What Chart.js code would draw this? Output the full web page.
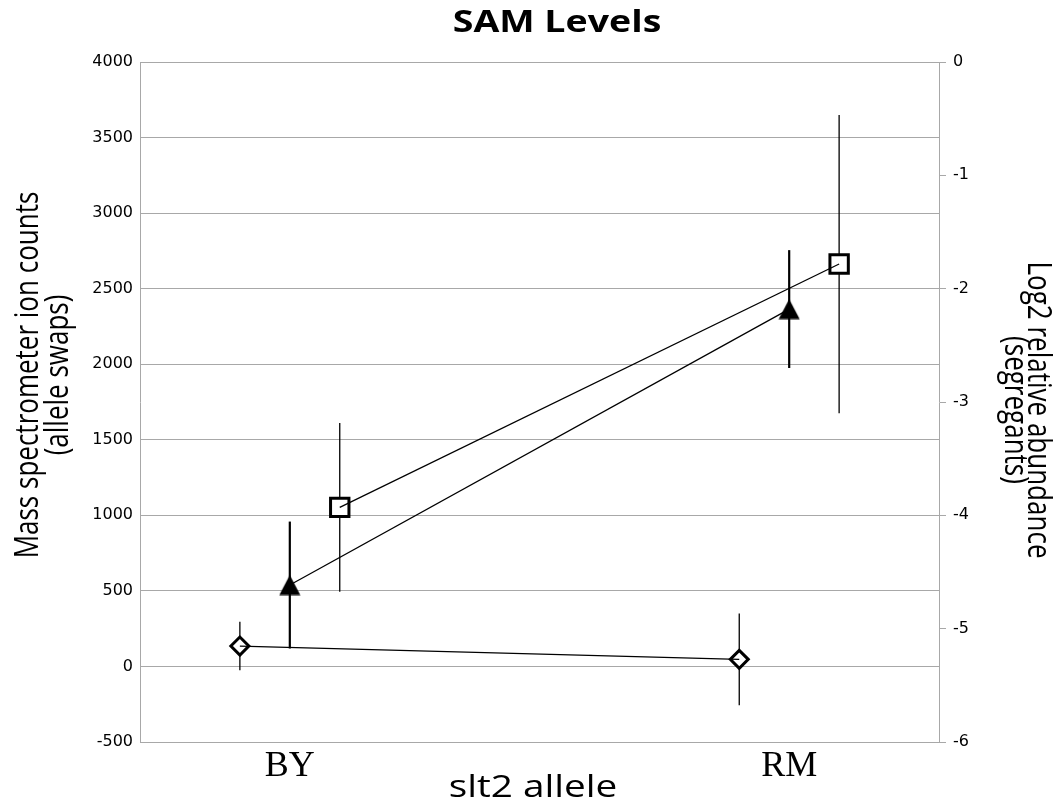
<!DOCTYPE html>
<html><head><meta charset="utf-8">
<script src="https://cdn.jsdelivr.net/npm/chart.js@4.4.0/dist/chart.umd.min.js"></script>
<style>html,body{margin:0;padding:0;background:#fff}</style>
</head><body>
<canvas id="c" width="1056" height="810"></canvas>
<script>
// ---- data ----
const categories = ['BY', 'RM'];
const diamondValues = [135, 47];
const diamondErrors = [160, 303];
const squareValues = [1053, 2663];
const squareErrors = [558, 987];
const triangleValues = [-4.615, -2.18];
const triangleErrors = [0.56, 0.52];
const leftTickValues = [-500, 0, 500, 1000, 1500, 2000, 2500, 3000, 3500, 4000];
const rightTickValues = [-6, -5, -4, -3, -2, -1, 0];

const titleText = 'SAM Levels';
const xTitleText = 'slt2 allele';
const leftTitleLines = ['Mass spectrometer ion counts', '(allele swaps)'];
const rightTitleLines = ['Log2 relative abundance', '(segregants)'];

// ---- styling helpers ----
const GRID = '#a8a8a8';
function pts(values, offset) {
  return categories.map((c, i) => ({ x: i + offset, y: values[i] }));
}
const tri = document.createElement('canvas');
tri.width = 22; tri.height = 21;
(function () {
  const t = tri.getContext('2d');
  t.fillStyle = '#000';
  t.beginPath();
  t.moveTo(11, 0.5); t.lineTo(21.5, 20.5); t.lineTo(0.5, 20.5);
  t.closePath(); t.fill();
})();

const errorBars = {
  id: 'errorBars',
  beforeDatasetsDraw(chart) {
    const ctx = chart.ctx;
    chart.data.datasets.forEach((ds, i) => {
      if (!ds.errors) return;
      const meta = chart.getDatasetMeta(i);
      const ys = chart.scales[ds.yAxisID];
      ctx.save();
      ctx.strokeStyle = '#000';
      ctx.lineWidth = ds.errorWidth;
      meta.data.forEach((el, j) => {
        const v = ds.data[j].y, e = ds.errors[j];
        ctx.beginPath();
        ctx.moveTo(el.x, ys.getPixelForValue(v + e));
        ctx.lineTo(el.x, ys.getPixelForValue(v - e));
        ctx.stroke();
      });
      ctx.restore();
    });
  }
};

const texts = {
  id: 'texts',
  afterDraw(chart) {
    const ctx = chart.ctx;
    ctx.save();
    ctx.fillStyle = '#000';
    // title
    ctx.save();
    ctx.font = 'bold 30px "Open Sans"';
    ctx.textAlign = 'center'; ctx.textBaseline = 'alphabetic';
    ctx.translate(557, 32); ctx.scale(1.25, 1);
    ctx.fillText(titleText, 0, 0);
    ctx.restore();
    // x title
    ctx.save();
    ctx.font = '31px "Open Sans"';
    ctx.textAlign = 'center'; ctx.textBaseline = 'alphabetic';
    ctx.translate(533, 797); ctx.scale(1.25, 1);
    ctx.fillText(xTitleText, 0, 0);
    ctx.restore();
    // left title
    ctx.save();
    ctx.font = '26px "Open Sans"';
    ctx.textAlign = 'center'; ctx.textBaseline = 'middle';
    ctx.translate(29, 375); ctx.rotate(-Math.PI / 2); ctx.scale(1, 1.25);
    ctx.fillText(leftTitleLines[0], 0, 0);
    ctx.fillText(leftTitleLines[1], 0, 24);
    ctx.restore();
    // right title
    ctx.save();
    ctx.font = '26px "Open Sans"';
    ctx.textAlign = 'center'; ctx.textBaseline = 'middle';
    ctx.translate(1037, 410); ctx.rotate(Math.PI / 2); ctx.scale(1, 1.25);
    ctx.fillText(rightTitleLines[0], 0, 0);
    ctx.fillText(rightTitleLines[1], 0, 18.5);
    ctx.restore();
    ctx.restore();
  }
};

new Chart(document.getElementById('c'), {
  type: 'line',
  data: {
    datasets: [
      // connecting lines (on top of markers)
      { data: pts(diamondValues, -0.1), yAxisID: 'y', borderColor: '#000', borderWidth: 1.3, pointRadius: 0, order: 0 },
      { data: pts(triangleValues, 0), yAxisID: 'y2', borderColor: '#000', borderWidth: 1.3, pointRadius: 0, order: 0 },
      { data: pts(squareValues, 0.1), yAxisID: 'y', borderColor: '#000', borderWidth: 1.3, pointRadius: 0, order: 0 },
      // markers
      { data: pts(diamondValues, -0.1), errors: diamondErrors, errorWidth: 1.3, yAxisID: 'y', showLine: false,
        pointStyle: 'rectRot', pointRadius: 9, pointBorderWidth: 3, pointBorderColor: '#000', pointBackgroundColor: '#fff', order: 1 },
      { data: pts(triangleValues, 0), errors: triangleErrors, errorWidth: 2.2, yAxisID: 'y2', showLine: false,
        pointStyle: tri, pointRadius: 11, order: 1 },
      { data: pts(squareValues, 0.1), errors: squareErrors, errorWidth: 1.3, yAxisID: 'y', showLine: false,
        pointStyle: 'rect', pointRadius: 13, pointBorderWidth: 3, pointBorderColor: '#000', pointBackgroundColor: '#fff', order: 1 }
    ]
  },
  options: {
    responsive: false,
    animation: false,
    events: [],
    layout: { padding: { top: 62, left: 0, right: 0, bottom: 0 } },
    plugins: { legend: { display: false }, tooltip: { enabled: false }, title: { display: false } },
    scales: {
      x: {
        type: 'linear', min: -0.3, max: 1.3, position: 'bottom',
        grid: { display: false }, border: { display: false },
        afterBuildTicks: (s) => { s.ticks = categories.map((c, i) => ({ value: i })); },
        afterFit: (s) => { s.height = 68; },
        ticks: {
          autoSkip: false, maxRotation: 0, padding: -5, color: '#000',
          font: { family: '"Liberation Serif"', size: 36 },
          callback: (v) => categories[v] ?? ''
        }
      },
      y: {
        type: 'linear', min: -500, max: 4000, position: 'left',
        grid: { color: GRID, lineWidth: 1, drawTicks: false },
        border: { color: GRID, width: 1 },
        afterBuildTicks: (s) => { s.ticks = leftTickValues.map(v => ({ value: v })); },
        afterFit: (s) => { s.width = 140; },
        ticks: { padding: 7, color: '#000', font: { family: '"DejaVu Sans"', size: 16 }, callback: (v) => String(v) }
      },
      y2: {
        type: 'linear', min: -6, max: 0, position: 'right',
        grid: { drawOnChartArea: false, color: GRID, tickLength: 7 },
        border: { color: GRID, width: 1 },
        afterBuildTicks: (s) => { s.ticks = rightTickValues.map(v => ({ value: v })); },
        afterFit: (s) => { s.width = 117; },
        ticks: { padding: 7, color: '#000', font: { family: '"DejaVu Sans"', size: 16 }, callback: (v) => String(v) }
      }
    }
  },
  plugins: [errorBars, texts]
});
</script>
</body></html>
